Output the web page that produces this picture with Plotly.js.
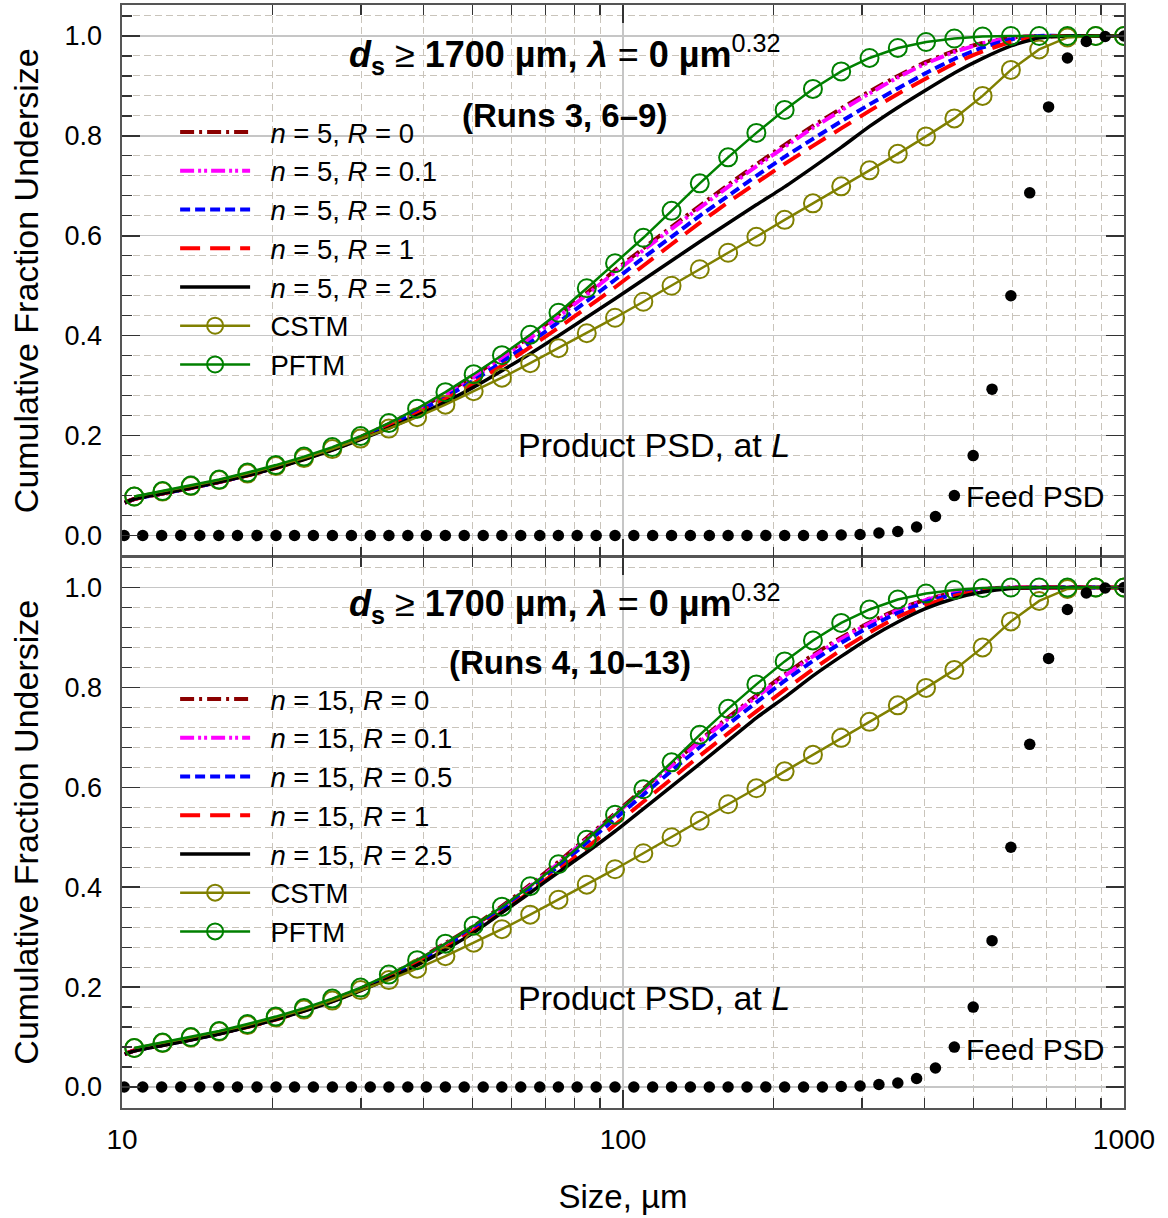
<!DOCTYPE html>
<html>
<head>
<meta charset="utf-8">
<script src="https://cdn.plot.ly/plotly-3.0.1.min.js"></script>
<style>html,body{margin:0;padding:0;background:#fff;}</style>
</head>
<body>
<div id="chart" style="width:1168px;height:1218px;"></div>
<script>
// ---------- DATA ----------
// size grid of the model lines (µm)
const sizeModel = [10.13, 10.58, 12.05, 13.72, 15.63, 17.80, 20.27, 23.08, 26.29, 29.93, 34.09, 38.82, 44.21, 50.34, 57.33, 65.28, 74.34, 84.66, 96.41, 109.8, 125.0, 142.3, 162.1, 184.6, 210.2, 239.4, 272.6, 310.5, 353.6, 402.6, 458.5, 522.1, 594.6, 677.1, 771.1, 878.1, 1000];
// size grid of the CSTM / PFTM markers (µm)
const sizeMarker = [10.58, 12.05, 13.72, 15.63, 17.80, 20.27, 23.08, 26.29, 29.93, 34.09, 38.82, 44.21, 50.34, 57.33, 65.28, 74.34, 84.66, 96.41, 109.8, 125.0, 142.3, 162.1, 184.6, 210.2, 239.4, 272.6, 310.5, 353.6, 402.6, 458.5, 522.1, 594.6, 677.1, 771.1, 878.1, 1000];
// size grid of the feed PSD (µm)
const feedSize = [10.1, 11.0, 12.0, 13.1, 14.3, 15.6, 17.0, 18.6, 20.3, 22.1, 24.1, 26.3, 28.7, 31.3, 34.1, 37.2, 40.5, 44.2, 48.2, 52.6, 57.3, 62.5, 68.2, 74.3, 81.0, 88.4, 96.4, 105.1, 114.6, 125.0, 136.3, 148.7, 162.1, 176.8, 192.8, 210.2, 229.3, 250.0, 272.6, 297.3, 324.2, 353.6, 385.5, 420.4, 458.5, 500.0, 545.3, 594.6, 648.4, 707.1, 771.1, 840.9, 917.0, 1000];
const feedFrac = [0, 0, 0, 0, 0, 0, 0, 0, 0, 0, 0, 0, 0, 0, 0, 0, 0, 0, 0, 0, 0, 0, 0, 0, 0, 0, 0, 0, 0, 0, 0, 0, 0, 0, 0, 0, 0, 0, 0.001, 0.002, 0.005, 0.008, 0.017, 0.038, 0.080, 0.160, 0.293, 0.480, 0.686, 0.858, 0.956, 0.989, 0.999, 1.0];

// limiting cases (same in both panels)
const pftm = [0.078, 0.089, 0.100, 0.112, 0.126, 0.141, 0.158, 0.177, 0.199, 0.225, 0.254, 0.287, 0.323, 0.361, 0.402, 0.446, 0.495, 0.545, 0.596, 0.650, 0.705, 0.757, 0.806, 0.852, 0.894, 0.929, 0.956, 0.976, 0.988, 0.995, 0.999, 1.0, 1.0, 1.0, 1.0, 1.0];
const cstm = [0.078, 0.088, 0.099, 0.111, 0.124, 0.139, 0.155, 0.173, 0.194, 0.214, 0.237, 0.262, 0.289, 0.316, 0.345, 0.375, 0.405, 0.436, 0.468, 0.500, 0.533, 0.566, 0.598, 0.632, 0.665, 0.699, 0.731, 0.764, 0.799, 0.835, 0.880, 0.932, 0.973, 0.997, 1.0, 1.0];

// top panel, n = 5
const n5R0   = [0.066, 0.073, 0.084, 0.095, 0.107, 0.121, 0.136, 0.154, 0.174, 0.197, 0.223, 0.252, 0.284, 0.320, 0.358, 0.399, 0.442, 0.486, 0.531, 0.575, 0.618, 0.660, 0.702, 0.743, 0.782, 0.820, 0.855, 0.889, 0.920, 0.948, 0.970, 0.986, 0.997, 1.0, 1.0, 1.0, 1.0];
const n5R01  = [0.066, 0.073, 0.084, 0.095, 0.107, 0.121, 0.136, 0.154, 0.174, 0.196, 0.222, 0.250, 0.281, 0.316, 0.354, 0.395, 0.438, 0.482, 0.527, 0.571, 0.614, 0.656, 0.698, 0.739, 0.778, 0.816, 0.851, 0.885, 0.917, 0.945, 0.968, 0.985, 0.996, 1.0, 1.0, 1.0, 1.0];
const n5R05  = [0.066, 0.073, 0.084, 0.095, 0.107, 0.121, 0.136, 0.154, 0.173, 0.195, 0.220, 0.247, 0.277, 0.310, 0.347, 0.386, 0.427, 0.469, 0.512, 0.556, 0.598, 0.640, 0.680, 0.720, 0.758, 0.794, 0.829, 0.863, 0.895, 0.926, 0.954, 0.977, 0.993, 1.0, 1.0, 1.0, 1.0];
const n5R1   = [0.066, 0.073, 0.084, 0.095, 0.107, 0.120, 0.135, 0.153, 0.172, 0.194, 0.218, 0.244, 0.273, 0.305, 0.340, 0.377, 0.416, 0.456, 0.497, 0.540, 0.583, 0.626, 0.667, 0.706, 0.744, 0.780, 0.815, 0.850, 0.884, 0.915, 0.945, 0.969, 0.988, 0.998, 1.0, 1.0, 1.0];
const n5R25  = [0.066, 0.073, 0.084, 0.095, 0.107, 0.120, 0.135, 0.152, 0.171, 0.192, 0.215, 0.240, 0.267, 0.297, 0.330, 0.364, 0.400, 0.437, 0.474, 0.512, 0.550, 0.588, 0.625, 0.662, 0.698, 0.737, 0.777, 0.819, 0.857, 0.892, 0.926, 0.955, 0.980, 0.996, 1.0, 1.0, 1.0];

// bottom panel, n = 15
const n15R0  = [0.066, 0.073, 0.084, 0.095, 0.107, 0.121, 0.136, 0.154, 0.174, 0.197, 0.223, 0.254, 0.288, 0.322, 0.362, 0.405, 0.451, 0.499, 0.548, 0.597, 0.646, 0.694, 0.740, 0.784, 0.826, 0.865, 0.900, 0.930, 0.956, 0.976, 0.990, 0.997, 1.0, 1.0, 1.0, 1.0, 1.0];
const n15R01 = [0.066, 0.073, 0.084, 0.095, 0.107, 0.121, 0.136, 0.154, 0.174, 0.196, 0.222, 0.252, 0.286, 0.319, 0.359, 0.402, 0.448, 0.496, 0.545, 0.594, 0.643, 0.691, 0.737, 0.781, 0.823, 0.862, 0.897, 0.928, 0.954, 0.975, 0.989, 0.997, 1.0, 1.0, 1.0, 1.0, 1.0];
const n15R05 = [0.066, 0.073, 0.084, 0.095, 0.107, 0.121, 0.136, 0.154, 0.173, 0.195, 0.221, 0.250, 0.283, 0.316, 0.355, 0.398, 0.442, 0.489, 0.537, 0.585, 0.633, 0.680, 0.726, 0.770, 0.813, 0.853, 0.889, 0.921, 0.949, 0.971, 0.986, 0.995, 0.999, 1.0, 1.0, 1.0, 1.0];
const n15R1  = [0.066, 0.073, 0.084, 0.095, 0.107, 0.120, 0.135, 0.153, 0.172, 0.194, 0.219, 0.247, 0.279, 0.312, 0.350, 0.391, 0.434, 0.479, 0.525, 0.571, 0.617, 0.663, 0.708, 0.752, 0.795, 0.836, 0.875, 0.910, 0.941, 0.965, 0.983, 0.994, 0.999, 1.0, 1.0, 1.0, 1.0];
const n15R25 = [0.066, 0.072, 0.083, 0.094, 0.106, 0.120, 0.135, 0.152, 0.171, 0.193, 0.217, 0.244, 0.275, 0.309, 0.349, 0.389, 0.430, 0.470, 0.512, 0.557, 0.602, 0.647, 0.693, 0.739, 0.780, 0.823, 0.862, 0.899, 0.931, 0.958, 0.978, 0.991, 0.998, 1.0, 1.0, 1.0, 1.0];

// axis ticks
const xTickVals = [10, 100, 1000];
const xTickText = ['10', '100', '1000'];
const xMinorVals = [20, 30, 40, 50, 60, 70, 80, 90, 200, 300, 400, 500, 600, 700, 800, 900];

// legend labels
const Rvalues = ['0', '0.1', '0.5', '1', '2.5'];

// ---------- STYLE ----------
const FONT = 'Liberation Sans, Arial, sans-serif';
const PAD = '\u00a0\u00a0';
const lineStyles = [
  {color: '#8B0000', dash: '14px,5px,3px,5px', width: 4},
  {color: '#FF00FF', dash: '14px,4px,3px,3px,3px,4px', width: 4},
  {color: '#0000FF', dash: '10px,5px', width: 4},
  {color: '#FF0000', dash: '20px,10px', width: 4},
  {color: '#000000', dash: 'solid', width: 3.5}
];

function panelTraces(n, series, xa, ya, leg) {
  const tr = [];
  series.forEach((ys, i) => {
    tr.push({
      x: sizeModel, y: ys, xaxis: xa, yaxis: ya, legend: leg,
      type: 'scatter', mode: 'lines',
      name: PAD + '<i>n</i> = ' + n + ', <i>R</i> = ' + Rvalues[i],
      line: Object.assign({shape: 'spline', smoothing: 0.5}, lineStyles[i])
    });
  });
  tr.push({
    x: sizeMarker, y: cstm, xaxis: xa, yaxis: ya, legend: leg,
    type: 'scatter', mode: 'lines+markers', name: PAD + 'CSTM',
    line: {color: '#808000', width: 2.5},
    marker: {symbol: 'circle-open', size: 18, color: '#808000', line: {width: 2, color: '#808000'}}
  });
  tr.push({
    x: sizeMarker, y: pftm, xaxis: xa, yaxis: ya, legend: leg,
    type: 'scatter', mode: 'lines+markers', name: PAD + 'PFTM',
    line: {color: '#008000', width: 2.5},
    marker: {symbol: 'circle-open', size: 18, color: '#008000', line: {width: 2, color: '#008000'}}
  });
  tr.push({
    x: feedSize, y: feedFrac, xaxis: xa, yaxis: ya, showlegend: false,
    type: 'scatter', mode: 'markers', name: 'Feed PSD',
    marker: {symbol: 'circle', size: 11.5, color: '#000'}
  });
  return tr;
}

const data = []
  .concat(panelTraces(5, [n5R0, n5R01, n5R05, n5R1, n5R25], 'x2', 'y2', 'legend'))
  .concat(panelTraces(15, [n15R0, n15R01, n15R05, n15R1, n15R25], 'x', 'y', 'legend2'));

const xCommon = {
  type: 'log', range: [1, 3],
  tickmode: 'array', tickvals: xTickVals, ticktext: xTickText,
  ticks: 'inside', ticklen: 18, tickwidth: 1.5, tickcolor: '#333',
  showline: true, linecolor: '#555', linewidth: 1.6, mirror: 'allticks',
  showgrid: true, gridcolor: '#c6c6c6', gridwidth: 1.3, zeroline: false,
  tickfont: {size: 28, family: FONT, color: '#000'}, ticklabelstandoff: 6,
  minor: {tickmode: 'array', tickvals: xMinorVals, ticks: 'inside', ticklen: 10, tickwidth: 1.2,
          tickcolor: '#333', showgrid: true, gridcolor: '#c9c4bb', griddash: '7px,4px', gridwidth: 1}
};
const yCommon = {
  range: [-0.042, 1.062], tickmode: 'linear', tick0: 0, dtick: 0.2, tickformat: '.1f',
  ticks: 'inside', ticklen: 18, tickwidth: 1.5, tickcolor: '#333',
  showline: true, linecolor: '#555', linewidth: 1.6, mirror: 'allticks',
  showgrid: true, gridcolor: '#c6c6c6', gridwidth: 1.3, zeroline: false,
  tickfont: {size: 27, family: FONT, color: '#000'}, ticklabelstandoff: 13,
  minor: {tick0: 0, dtick: 0.04, ticks: 'inside', ticklen: 10, tickwidth: 1.2,
          tickcolor: '#333', showgrid: true, gridcolor: '#c9c4bb', griddash: '7px,4px', gridwidth: 1},
  title: {text: 'Cumulative Fraction Undersize', font: {size: 34, family: FONT, color: '#000'}, standoff: 15}
};

const titleText = '<b><i>d</i><sub>s</sub></b> \u2265 <b>1700 \u00b5m, <i>\u03bb</i></b> = <b>0 \u00b5m</b><sup>0.32</sup>';
const ann = (x, y, text, size) => ({xref: 'paper', yref: 'paper', x: x, y: y, text: text, showarrow: false,
  xanchor: 'center', yanchor: 'middle', font: {size: size, family: FONT, color: '#000'}});

const layout = {
  width: 1168, height: 1218,
  margin: {l: 122, r: 44, t: 5, b: 110},
  paper_bgcolor: '#fff', plot_bgcolor: '#fff',
  font: {family: FONT, color: '#000'},
  showlegend: true,
  xaxis: Object.assign({}, xCommon, {anchor: 'y', domain: [0, 1],
    title: {text: 'Size, \u00b5m', font: {size: 33, family: FONT, color: '#000'}, standoff: 30}}),
  xaxis2: Object.assign({}, xCommon, {anchor: 'y2', matches: 'x', showticklabels: false}),
  yaxis: Object.assign({}, yCommon, {domain: [0, 0.5], anchor: 'x'}),
  yaxis2: Object.assign({}, yCommon, {domain: [0.5, 1], anchor: 'x2'}),
  legend: {x: 0.053, y: 0.907, xanchor: 'left', yanchor: 'top', bgcolor: 'rgba(0,0,0,0)',
           font: {size: 27.5, family: FONT, color: '#000'}, itemwidth: 70, tracegroupgap: 0},
  legend2: {x: 0.053, y: 0.393, xanchor: 'left', yanchor: 'top', bgcolor: 'rgba(0,0,0,0)',
           font: {size: 27.5, family: FONT, color: '#000'}, itemwidth: 70, tracegroupgap: 0},
  annotations: [
    ann(0.442, 0.955, titleText, 36),
    ann(0.442, 0.900, '<b>(Runs 3, 6\u20139)</b>', 33),
    ann(0.531, 0.601, 'Product PSD, at <i>L</i>', 34),
    ann(0.911, 0.554, 'Feed PSD', 30),
    ann(0.442, 0.457, titleText, 36),
    ann(0.447, 0.404, '<b>(Runs 4, 10\u201313)</b>', 33),
    ann(0.531, 0.100, 'Product PSD, at <i>L</i>', 34),
    ann(0.911, 0.053, 'Feed PSD', 30)
  ]
};

Plotly.newPlot('chart', data, layout, {staticPlot: true, displayModeBar: false});
</script>
</body>
</html>
